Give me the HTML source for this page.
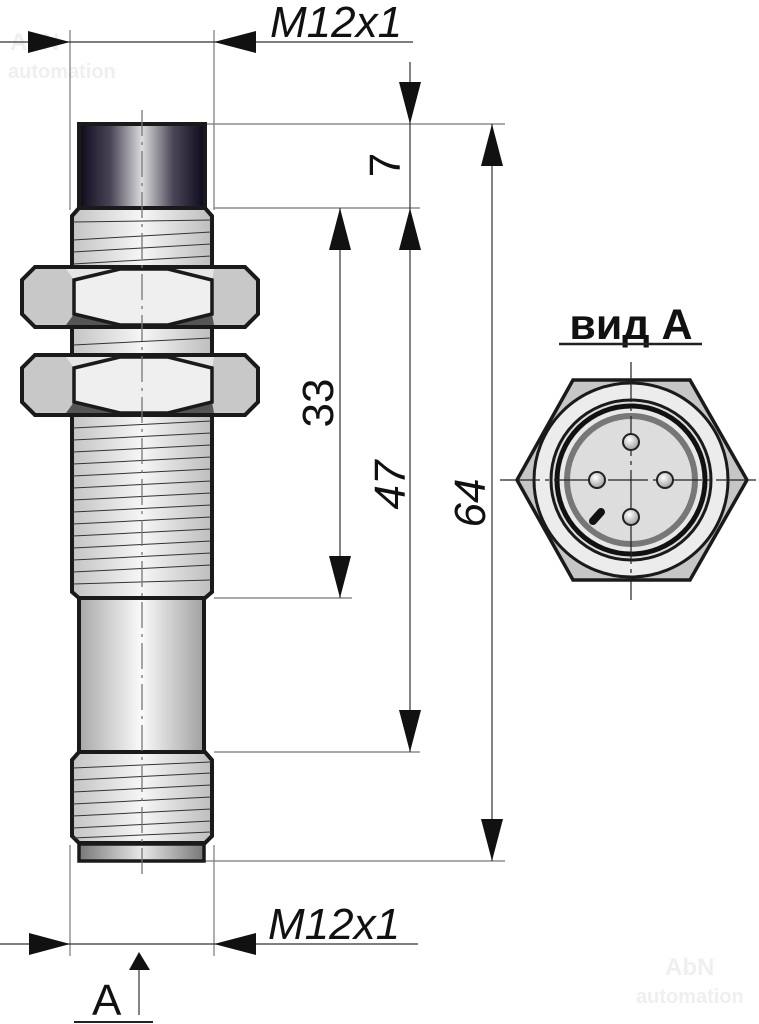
<!DOCTYPE html>
<html><head><meta charset="utf-8"><style>html,body{margin:0;padding:0;background:#fff}svg{display:block}</style></head>
<body>
<svg width="759" height="1024" viewBox="0 0 759 1024" xmlns="http://www.w3.org/2000/svg" font-family="Liberation Sans, sans-serif">
<defs>
<linearGradient id="dark" x1="0" x2="1"><stop offset="0" stop-color="#0d0a1c"/><stop offset="0.25" stop-color="#4a4456"/><stop offset="0.5" stop-color="#dcdcde"/><stop offset="0.75" stop-color="#4a4456"/><stop offset="1" stop-color="#0d0a1c"/></linearGradient>
<linearGradient id="metal" x1="0" x2="1"><stop offset="0" stop-color="#a8a8a8"/><stop offset="0.5" stop-color="#fafafa"/><stop offset="1" stop-color="#a0a0a0"/></linearGradient>
<linearGradient id="thr" x1="0" x2="1"><stop offset="0" stop-color="#c4c4c4"/><stop offset="0.5" stop-color="#f6f6f6"/><stop offset="1" stop-color="#bdbdbd"/></linearGradient>
<linearGradient id="bot" x1="0" x2="1"><stop offset="0" stop-color="#777"/><stop offset="0.5" stop-color="#e8e8e8"/><stop offset="1" stop-color="#777"/></linearGradient>
<radialGradient id="pin" cx="0.4" cy="0.35" r="0.7"><stop offset="0" stop-color="#fff"/><stop offset="1" stop-color="#999"/></radialGradient>
</defs>

<!-- watermarks -->
<text x="10" y="50" font-size="24" font-weight="bold" fill="#efefef">AbN</text>
<text x="8" y="78" font-size="20" font-weight="bold" fill="#efefef">automation</text>
<text x="665" y="975" font-size="24" font-weight="bold" fill="#efefef">AbN</text>
<text x="636" y="1003" font-size="20" font-weight="bold" fill="#efefef">automation</text>

<!-- extension lines -->
<g stroke="#777" stroke-width="1.2">
<line x1="70" y1="30" x2="70" y2="210"/><line x1="214" y1="30" x2="214" y2="210"/>
<line x1="70" y1="845" x2="70" y2="956"/><line x1="214" y1="845" x2="214" y2="956"/>
<line x1="205" y1="124" x2="505" y2="124"/>
<line x1="214" y1="208" x2="420" y2="208"/>
<line x1="214" y1="598" x2="352" y2="598"/>
<line x1="214" y1="752" x2="420" y2="752"/>
<line x1="205" y1="861" x2="505" y2="861"/>
</g>

<!-- upper thread -->
<path d="M72,216 L79,208 L205,208 L212,216 L212,592 L205,598 L79,598 L72,592 Z" fill="url(#thr)" stroke="#1a1a1a" stroke-width="4"/>
<g stroke="#333" stroke-width="1">
<line x1="73" y1="222" x2="211" y2="220"/>
<line x1="73" y1="240" x2="211" y2="232"/><line x1="73" y1="252" x2="211" y2="244"/><line x1="73" y1="264" x2="211" y2="256"/>
<line x1="73" y1="345" x2="211" y2="338"/>
<line x1="73" y1="428" x2="211" y2="421"/><line x1="73" y1="440" x2="211" y2="433"/><line x1="73" y1="452" x2="211" y2="445"/><line x1="73" y1="464" x2="211" y2="457"/><line x1="73" y1="476" x2="211" y2="469"/><line x1="73" y1="488" x2="211" y2="481"/><line x1="73" y1="500" x2="211" y2="493"/><line x1="73" y1="512" x2="211" y2="505"/><line x1="73" y1="524" x2="211" y2="517"/><line x1="73" y1="536" x2="211" y2="529"/><line x1="73" y1="548" x2="211" y2="541"/><line x1="73" y1="560" x2="211" y2="553"/><line x1="73" y1="572" x2="211" y2="565"/><line x1="73" y1="584" x2="211" y2="580"/>
</g>

<!-- cap -->
<rect x="79" y="124" width="126" height="84" fill="url(#dark)" stroke="#1a1a1a" stroke-width="4"/>

<!-- nuts -->
<g id="nut">
<path d="M35,267 L245,267 L258,280 L258,314 L245,327 L35,327 L22,314 L22,280 Z" fill="#c8c8c8" stroke="#1a1a1a" stroke-width="4"/>
<path d="M66,269 L120,269 L74,280 Z M214,269 L168,269 L212,280 Z" fill="#e6e6e6"/>
<path d="M66,325 L120,325 L74,314 Z M214,325 L168,325 L212,314 Z" fill="#555"/>
<path d="M74,280 L120,269 L168,269 L212,280 L212,314 L168,325 L120,325 L74,314 Z" fill="#efefef" stroke="#1a1a1a" stroke-width="3.5"/>
</g>
<use href="#nut" transform="translate(0,88)"/>

<!-- smooth part -->
<rect x="79" y="598" width="125" height="154" fill="url(#metal)" stroke="#1a1a1a" stroke-width="4"/>

<!-- lower thread -->
<path d="M72,760 L79,752 L205,752 L212,760 L212,836 L205,843 L79,843 L72,836 Z" fill="url(#thr)" stroke="#1a1a1a" stroke-width="4"/>
<g stroke="#333" stroke-width="1">
<line x1="73" y1="768" x2="211" y2="762"/><line x1="73" y1="780" x2="211" y2="773"/><line x1="73" y1="792" x2="211" y2="785"/><line x1="73" y1="804" x2="211" y2="797"/><line x1="73" y1="816" x2="211" y2="809"/><line x1="73" y1="828" x2="211" y2="821"/><line x1="73" y1="838" x2="211" y2="832"/>
</g>
<rect x="79" y="844" width="125" height="17" fill="url(#bot)" stroke="#1a1a1a" stroke-width="3.5"/>

<!-- centerline -->
<line x1="142" y1="110" x2="142" y2="875" stroke="#777" stroke-width="1.3" stroke-dasharray="26,6,3,6"/>

<!-- dims -->
<g stroke="#333" stroke-width="1.2">
<line x1="0" y1="42" x2="413" y2="42"/>
<line x1="0" y1="944" x2="418" y2="944"/>
<line x1="410" y1="62" x2="410" y2="752"/>
<line x1="340" y1="208" x2="340" y2="598"/>
<line x1="492" y1="124" x2="492" y2="861"/>
<line x1="139" y1="960" x2="139" y2="1015"/>
<line x1="74" y1="1022" x2="153" y2="1022" stroke="#222" stroke-width="2"/>
</g>
<g fill="#111">
<polygon points="28,31 28,53 70,42"/><polygon points="256,31 256,53 214,42"/>
<polygon points="29,933 29,955 70,944"/><polygon points="256,933 256,955 214,944"/>
<polygon points="399,82 421,82 410,124"/><polygon points="399,250 421,250 410,208"/>
<polygon points="399,710 421,710 410,752"/>
<polygon points="329,250 351,250 340,208"/><polygon points="329,556 351,556 340,598"/>
<polygon points="481,166 503,166 492,124"/><polygon points="481,819 503,819 492,861"/>
<polygon points="129,970 150,970 139,952"/>
</g>

<g font-size="44" fill="#111">
<text x="270" y="37" font-style="italic">M12x1</text>
<text x="268" y="939" font-style="italic">M12x1</text>
<text x="92" y="1015">A</text>
<text transform="translate(400,165) rotate(-90)" text-anchor="middle">7</text>
<text transform="translate(333,403) rotate(-90)" text-anchor="middle">33</text>
<text transform="translate(405,485) rotate(-90)" text-anchor="middle" font-style="italic">47</text>
<text transform="translate(485,503) rotate(-90)" text-anchor="middle" font-style="italic">64</text>
</g>

<!-- view A -->
<text x="631" y="339" font-size="43" font-weight="bold" text-anchor="middle" fill="#111">вид A</text>
<line x1="559" y1="344" x2="702" y2="344" stroke="#222" stroke-width="2.5"/>
<polygon points="573,380 690,380 747,480 690,580 573,580 517,480" fill="#c6c6c6" stroke="#1a1a1a" stroke-width="3.5"/>
<circle cx="631" cy="480" r="97" fill="#ececec" stroke="#1a1a1a" stroke-width="3"/>
<circle cx="631" cy="480" r="80" fill="#ddd" stroke="#1a1a1a" stroke-width="3"/>
<circle cx="631" cy="480" r="74" fill="#e8e8e8" stroke="#111" stroke-width="5"/>
<circle cx="631" cy="480" r="64" fill="#ddd" stroke="#777" stroke-width="6"/>
<g stroke="#222" stroke-width="1.2">
<line x1="631" y1="362" x2="631" y2="600" stroke-dasharray="40,5,4,5"/>
<line x1="500" y1="480" x2="758" y2="480" stroke-dasharray="40,5,4,5"/>
</g>
<g fill="url(#pin)" stroke="#222" stroke-width="2">
<circle cx="631" cy="442" r="8"/><circle cx="597" cy="480" r="8"/><circle cx="665" cy="480" r="8"/><circle cx="631" cy="517" r="8"/>
</g>
<line x1="593" y1="521" x2="601" y2="512" stroke="#111" stroke-width="8" stroke-linecap="round"/>
</svg>
</body></html>
